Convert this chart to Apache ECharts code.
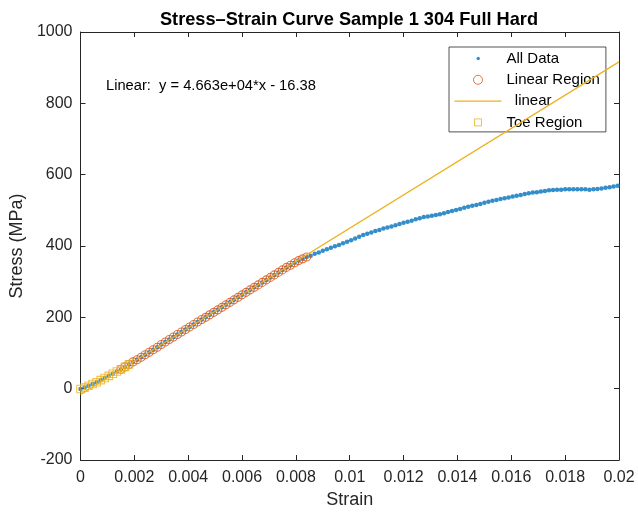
<!DOCTYPE html>
<html>
<head>
<meta charset="utf-8">
<script src="https://cdn.jsdelivr.net/npm/echarts@6/dist/echarts.min.js"></script>
<style>
html,body{margin:0;padding:0;background:#fff;}
#chart{width:638px;height:515px;}
</style>
</head>
<body>
<div id="chart"></div>
<script>
// ---- data ----
const strain = [
0,0.00015,0.0003,0.00045,0.0006,0.00075,0.0009,0.00105,0.0012,0.00135,
0.0015,0.00165,0.0018,0.00195,0.0021,0.00225,0.0024,0.00255,0.0027,0.00285,
0.003,0.00315,0.0033,0.00345,0.0036,0.00375,0.0039,0.00405,0.0042,0.00435,
0.0045,0.00465,0.0048,0.00495,0.0051,0.00525,0.0054,0.00555,0.0057,0.00585,
0.006,0.00615,0.0063,0.00645,0.0066,0.00675,0.0069,0.00705,0.0072,0.00735,
0.0075,0.00765,0.0078,0.00795,0.0081,0.00825,0.0084,0.00855,0.0087,0.00885,
0.009,0.00915,0.0093,0.00945,0.0096,0.00975,0.0099,0.01005,0.0102,0.01035,
0.0105,0.01065,0.0108,0.01095,0.0111,0.01125,0.0114,0.01155,0.0117,0.01185,
0.012,0.01215,0.0123,0.01245,0.0126,0.01275,0.0129,0.01305,0.0132,0.01335,
0.0135,0.01365,0.0138,0.01395,0.0141,0.01425,0.0144,0.01455,0.0147,0.01485,
0.015,0.01515,0.0153,0.01545,0.0156,0.01575,0.0159,0.01605,0.0162,0.01635,
0.0165,0.01665,0.0168,0.01695,0.0171,0.01725,0.0174,0.01755,0.0177,0.01785,
0.018,0.01815,0.0183,0.01845,0.0186,0.01875,0.0189,0.01905,0.0192,0.01935,
0.0195,0.01965,0.0198,0.01995
];
const stress = [
-1,3,8,13,18,24,30,36,42,48,
54,61,68,75,81,88,95,102,109,116,
124,131,138,145,152,159,166,173,180,187,
194,200,207,214,221,228,235,242,249,256,
263,270,277,284,291,298,305,312,319,326,
333,340,346,353,359,364,369,373,378,382,
387,391,395,399,403,408,412,416,421,426,
431,434,438,442,445,449,452,455,458,462,
465,468,471,475,478,481,483,485,487,489,
492,495,498,501,504,507,510,513,515,518,
521,524,527,529,532,534,536,539,541,543,
546,548,550,551,553,554,556,557,558,558,
559,559,559,559,559,559,558,559,560,561,
563,565,567,569
];
// index ranges of the marked regions
const toeRange = [0, 12];
const linearRange = [10, 56];
// fitted line end points (Linear: y = 4.663e+04*x - 16.38)
const fitX = [0, 0.02];
const fitY = [-16.38, 916.22];
const fitLabel = 'Linear:  y = 4.663e+04*x - 16.38';
const xTicks = [0, 0.002, 0.004, 0.006, 0.008, 0.01, 0.012, 0.014, 0.016, 0.018, 0.02];
const yTicks = [-200, 0, 200, 400, 600, 800, 1000];

// ---- build ----
const allData = strain.map((x, i) => [x, stress[i]]);
const toeData = allData.slice(toeRange[0], toeRange[1] + 1);
const linData = allData.slice(linearRange[0], linearRange[1] + 1);
const fitData = fitX.map((x, i) => [x, fitY[i]]);

const AX = '#262626';
const FONT = '"Liberation Sans", Arial, Helvetica, sans-serif';
const fmtX = v => String(parseFloat(Number(v).toFixed(4)));
const fmtY = v => String(v);

// legend icons: shapes placed inside a fixed 47x14 box (moveTo corners fix the box)
const BOX = 'M0,0M47,14';
const iconDot = 'path://' + BOX + 'M22,7a1.7,1.7 0 1,0 3.4,0a1.7,1.7 0 1,0 -3.4,0Z';
const iconCircle = 'path://' + BOX + 'M19,7a4.5,4.5 0 1,0 9,0a4.5,4.5 0 1,0 -9,0Z';
const iconLine = 'path://' + BOX + 'M0,6.4H47V7.6H0Z';
const iconSquare = 'path://' + BOX + 'M20,3.5H27V10.5H20Z';

const chart = echarts.init(document.getElementById('chart'), null, {renderer: 'canvas'});
const baseAxis = {
  axisLine: {show: true, onZero: false, lineStyle: {color: AX, width: 1}},
  axisTick: {show: true, inside: true, length: 5, lineStyle: {color: AX}},
  splitLine: {show: false}
};
chart.setOption({
  animation: false,
  backgroundColor: '#fff',
  textStyle: {fontFamily: FONT},
  title: {
    text: 'Stress–Strain Curve Sample 1 304 Full Hard',
    left: 344, top: 6, textAlign: 'center',
    textStyle: {fontSize: 18.2, fontWeight: 'bold', color: '#000', fontFamily: FONT}
  },
  grid: {left: 78, right: 19, top: 32, bottom: 55, containLabel: false},
  xAxis: [
    Object.assign({}, baseAxis, {
      type: 'value', min: xTicks[0], max: xTicks[xTicks.length - 1], interval: 0.002,
      position: 'bottom',
      name: 'Strain', nameLocation: 'middle', nameGap: 31,
      nameTextStyle: {fontSize: 18, color: AX, fontFamily: FONT},
      axisLabel: {color: AX, fontSize: 16, margin: 10, formatter: fmtX, fontFamily: FONT}
    }),
    Object.assign({}, baseAxis, {
      type: 'value', min: xTicks[0], max: xTicks[xTicks.length - 1], interval: 0.002,
      position: 'top', axisLabel: {show: false}
    })
  ],
  yAxis: [
    Object.assign({}, baseAxis, {
      type: 'value', min: yTicks[0], max: yTicks[yTicks.length - 1], interval: 200,
      position: 'left',
      name: 'Stress (MPa)', nameLocation: 'middle', nameGap: 50,
      nameTextStyle: {fontSize: 18, color: AX, fontFamily: FONT},
      axisLabel: {color: AX, fontSize: 16, margin: 8, formatter: fmtY, fontFamily: FONT}
    }),
    Object.assign({}, baseAxis, {
      type: 'value', min: yTicks[0], max: yTicks[yTicks.length - 1], interval: 200,
      position: 'right', axisLabel: {show: false}
    })
  ],
  legend: {
    orient: 'vertical',
    left: 449, top: 47,
    padding: [4, 6, 2, 5],
    itemGap: 6.3,
    itemWidth: 47, itemHeight: 14,
    backgroundColor: '#fff',
    borderColor: AX, borderWidth: 0.8,
    textStyle: {fontSize: 15, color: '#000', fontFamily: FONT},
    formatter: n => n === 'linear' ? '  ' + n : n,
    data: [
      {name: 'All Data', icon: iconDot, itemStyle: {color: '#0072BD', borderWidth: 0}},
      {name: 'Linear Region', icon: iconCircle, itemStyle: {color: 'rgba(0,0,0,0)', borderColor: '#D95319', borderWidth: 1}},
      {name: 'linear', icon: iconLine, itemStyle: {color: '#EDB120', borderWidth: 0}},
      {name: 'Toe Region', icon: iconSquare, itemStyle: {color: 'rgba(0,0,0,0)', borderColor: '#EDB120', borderWidth: 1}}
    ]
  },
  graphic: [{
    type: 'text', left: 106, top: 78,
    style: {text: fitLabel, fontSize: 14.7, fill: '#000', fontFamily: FONT}
  }],
  series: [
    {
      name: 'All Data', type: 'scatter', data: allData,
      symbol: 'circle', symbolSize: 4.5,
      itemStyle: {color: '#0072BD'}, z: 2
    },
    {
      name: 'Linear Region', type: 'scatter', data: linData,
      symbol: 'circle', symbolSize: 8,
      itemStyle: {color: 'rgba(0,0,0,0)', borderColor: '#D95319', borderWidth: 1.1}, z: 3
    },
    {
      name: 'linear', type: 'line', data: fitData,
      symbol: 'none', showSymbol: false,
      lineStyle: {color: '#EDB120', width: 1.2}, itemStyle: {color: '#EDB120'}, z: 4
    },
    {
      name: 'Toe Region', type: 'scatter', data: toeData,
      symbol: 'rect', symbolSize: 7.5,
      itemStyle: {color: 'rgba(0,0,0,0)', borderColor: '#EDB120', borderWidth: 1.1}, z: 5
    }
  ]
});
</script>
</body>
</html>
